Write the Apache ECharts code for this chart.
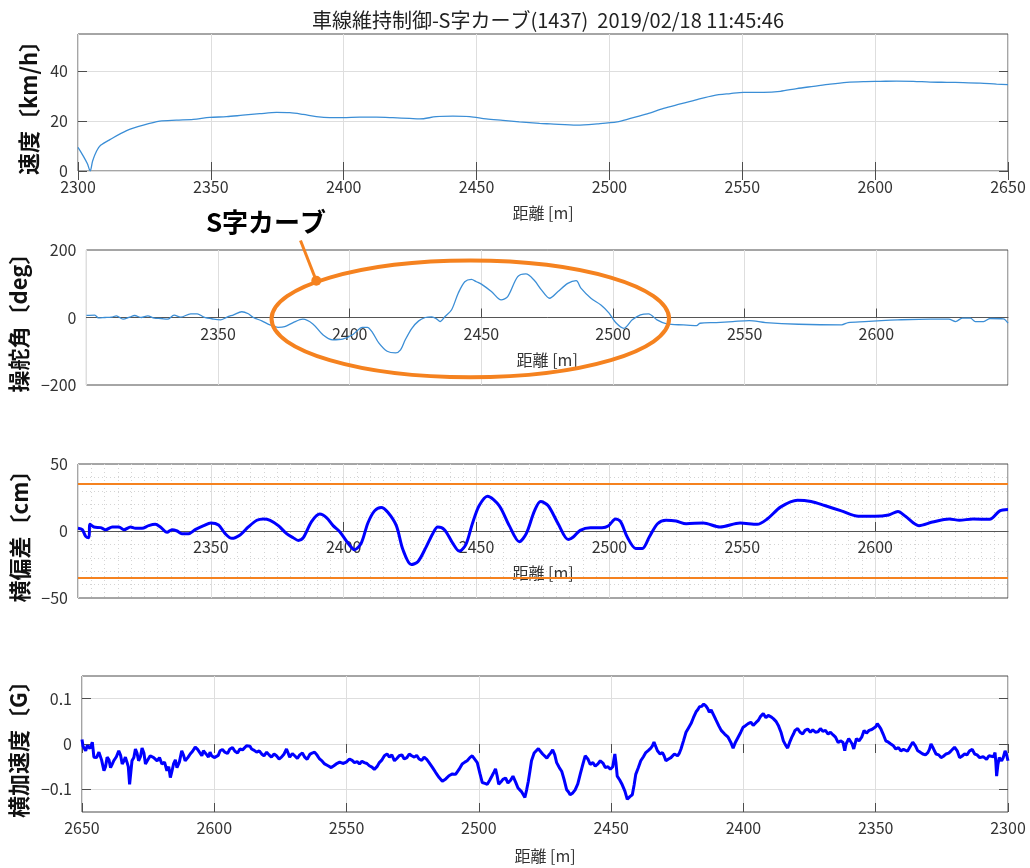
<!DOCTYPE html>
<html>
<head>
<meta charset="utf-8">
<script src="https://cdn.jsdelivr.net/npm/echarts@6/dist/echarts.min.js"></script>
<style>
  html, body { margin: 0; padding: 0; background: #fff; }
  #chart { width: 1030px; height: 868px; }
</style>
</head>
<body>
<div id="chart"></div>
<script>
// ---- text ----
const titleText = '車線維持制御-S字カーブ(1437)  2019/02/18 11:45:46';
const distanceName = '距離 [m]';
const panelNames = ['速度〔km/h〕', '操舵角〔deg〕', '横偏差〔cm〕', '横加速度〔G〕'];
const curveLabel = 'S字カーブ';

// ---- axes ----
const distanceRange = [2300, 2650];
const distanceStep = 50;
const speedTicks = [0, 20, 40];
const steerTicks = [-200, 0, 200];
const deviationTicks = [-50, 0, 50];
const accelTicks = [-0.1, 0, 0.1];

// ---- series: [distance m, value] ----
const speedKmh = [
  [2300, 9.5], [2302, 6], [2303.5, 3], [2304.6, 0], [2305.5, 4], [2307, 8], [2308.5, 10.3],
  [2312, 12.6], [2318.3, 16.2], [2324.6, 18.4], [2330.8, 20], [2337, 20.4], [2343.4, 20.7],
  [2349.6, 21.5], [2355.9, 21.8], [2362, 22.4], [2368.4, 23], [2374.7, 23.5], [2379.7, 23.4],
  [2384.7, 22.7], [2389.7, 21.8], [2394.7, 21.4], [2399.7, 21.4], [2406, 21.6], [2412.3, 21.6],
  [2418.5, 21.4], [2424.8, 21.1], [2428.6, 20.9], [2434.8, 21.8], [2441.1, 22], [2447.4, 21.8],
  [2453.6, 20.9], [2459.9, 20.3], [2466.1, 19.7], [2473.7, 19.1], [2477.8, 18.9], [2487.8, 18.4],
  [2495.4, 18.9], [2502.9, 19.7], [2507.9, 21.1], [2514.2, 22.9], [2520.4, 25.1], [2526.7, 26.9],
  [2533, 28.7], [2539.2, 30.3], [2545.5, 31.1], [2550.5, 31.6], [2558, 31.6], [2564.3, 32],
  [2570.5, 33.1], [2576.8, 34], [2583.1, 34.9], [2589.3, 35.6], [2595.6, 35.9], [2601.9, 36],
  [2608.1, 36.1], [2614.4, 36], [2620.7, 35.7], [2627, 35.6], [2633.2, 35.5], [2639.5, 35.3],
  [2645.7, 34.9], [2650, 34.7]
];

const steeringDeg = [
  [2300, 6], [2303.2, 7], [2304.5, -1], [2307, 0], [2309.5, 1], [2311.4, 5], [2313.9, -5],
  [2316.4, 1], [2318.3, 6], [2320.8, 0], [2323.3, 5], [2325.8, -2], [2328.3, -3], [2330.8, -5],
  [2333.3, 7], [2335.8, 1], [2339.6, 11], [2342.1, 11], [2344.6, 1], [2348.4, -5], [2350.9, -7],
  [2353.4, 1], [2355.9, 8], [2359, 17], [2361.5, 11], [2363.4, 0], [2366.6, -10], [2369.7, -22],
  [2372.8, -29], [2375.3, -27], [2378.5, -15], [2382.2, -5], [2386, -19], [2389.8, -51],
  [2393.5, -66], [2397.3, -64], [2401.1, -51], [2404.8, -29], [2406.7, -29], [2408.6, -44],
  [2411.1, -76], [2414.2, -100], [2417.4, -105], [2419.3, -96], [2421.1, -66], [2423.6, -32],
  [2426.2, -10], [2428.7, 0], [2431.2, 2], [2433.1, -5], [2434.3, -12], [2436.2, 3],
  [2438.7, 23], [2441.2, 72], [2443.7, 106], [2446.2, 113], [2448.1, 106], [2450, 99],
  [2453.8, 77], [2457.5, 52], [2460, 62], [2463.8, 121], [2466.9, 129], [2470, 111],
  [2472.8, 82], [2475.9, 57], [2479.1, 77], [2482.8, 101], [2486, 109], [2487.8, 87],
  [2491.6, 57], [2495.4, 37], [2498.5, 13], [2501, -15], [2504.1, -32], [2507.3, -7],
  [2510.4, 8], [2513.5, 11], [2516.7, -7], [2520.4, -19], [2526.7, -22], [2531.7, -24],
  [2533, -17], [2539.2, -15], [2545.5, -12], [2551.7, -9], [2558, -15], [2570.5, -20],
  [2586.8, -22], [2589.3, -15], [2595.6, -12], [2601.9, -9], [2608.1, -7], [2620.7, -5],
  [2627.5, -5], [2630.1, -12], [2632.6, -2], [2635.7, -2], [2637.6, -12], [2640.7, -12],
  [2643.2, -3], [2648.2, -4], [2650, -17]
];

const deviationCm = [
  [2300, 2], [2301.6, 1], [2302.9, -4], [2304.1, -5], [2304.5, 5], [2306, 3], [2308.5, 2.5],
  [2310.4, 1], [2312.9, 3], [2315.4, 3], [2317.3, 1], [2319.8, 3], [2321.6, 2], [2324.1, 2],
  [2326.6, 4], [2329.1, 5], [2331, 3], [2333.5, -1], [2335.4, 1], [2337.3, 0], [2339.1, -2],
  [2341.6, -2], [2344.1, 1], [2347.3, 4], [2350, 6], [2352.9, 4.5], [2355.4, -2], [2357.9, -5.5],
  [2361, -3], [2364.1, 3], [2367.3, 8], [2369.8, 9], [2372.3, 8], [2375.4, 4], [2378.5, -2],
  [2381, -5], [2382.9, -7], [2384.8, -5], [2387.9, 7], [2391, 12.6], [2393.5, 10], [2396, 4],
  [2398.5, -0.5], [2401.6, -9], [2404.1, -14], [2406.6, -9], [2409.1, 6], [2411.6, 15],
  [2414.1, 17.6], [2416.6, 14], [2419.8, 4], [2422.3, -14], [2425.4, -25], [2427.9, -23],
  [2431, -12], [2433.5, -2], [2435.4, 3], [2437.9, 1], [2441, -9], [2443.5, -15], [2446, -10],
  [2448.5, 6], [2451, 19], [2454.1, 26], [2458.5, 19], [2462.3, 4], [2466.1, -8], [2468.7, -2],
  [2471.8, 15], [2474.1, 22], [2476.9, 19], [2480.7, 5.4], [2484.5, -6.4], [2486.4, -4.5],
  [2489, 0.5], [2492.8, 2.5], [2497.2, 2.5], [2499.7, 4], [2502.3, 9], [2504.2, 7],
  [2506.7, -4.5], [2509.9, -13], [2512.4, -13], [2515, -4.5], [2518.1, 5.4], [2521.3, 8],
  [2525.1, 7.4], [2528.9, 5.4], [2535.3, 6], [2541.6, 3], [2549.2, 6], [2555.6, 5], [2559.4, 9],
  [2564.5, 18], [2570.8, 23], [2575.9, 22], [2581, 19], [2587.3, 15], [2593.7, 11], [2600, 11],
  [2605.1, 12], [2608.6, 14.6], [2611.4, 11], [2616.5, 4], [2621.6, 6.7], [2627.9, 9],
  [2631.7, 8], [2636.8, 9], [2643.1, 8.7], [2646.9, 15], [2650, 16]
];
const deviationLimits = [35, -35];

const lateralG = [
  [2300.0, -0.037], [2300.6, -0.022], [2301.1, -0.015], [2301.8, -0.030], [2302.4, -0.037],
  [2303.3, -0.030], [2303.8, -0.045], [2304.3, -0.071], [2304.6, -0.040], [2304.9, -0.019],
  [2305.5, -0.028], [2306.2, -0.030], [2307.2, -0.026], [2308.1, -0.034], [2309.4, -0.028],
  [2310.7, -0.030], [2311.7, -0.024], [2312.6, -0.022], [2313.5, -0.012], [2314.5, -0.015],
  [2315.5, -0.024], [2316.4, -0.022], [2317.4, -0.027], [2318.3, -0.030], [2319.2, -0.015],
  [2320.2, -0.007], [2321.5, -0.015], [2322.4, -0.020], [2323.4, -0.022], [2324.4, -0.027],
  [2325.3, -0.030], [2326.2, -0.024], [2327.2, -0.022], [2328.2, -0.010], [2329.1, 0.000],
  [2329.7, -0.012], [2330.3, -0.019], [2331.2, -0.024], [2332.2, -0.022], [2333.2, -0.018],
  [2334.1, -0.015], [2335.0, -0.004], [2336.0, 0.004], [2336.7, -0.003], [2337.3, -0.007],
  [2338.0, -0.016], [2338.6, -0.019], [2339.5, -0.012], [2340.5, -0.015], [2341.4, -0.008],
  [2342.4, -0.011], [2343.3, -0.004], [2344.3, 0.000], [2345.2, 0.004], [2346.2, 0.007],
  [2347.2, 0.022], [2348.1, 0.034], [2348.8, 0.040], [2349.4, 0.045], [2350.0, 0.038],
  [2350.6, 0.041], [2351.5, 0.032], [2352.5, 0.030], [2353.5, 0.024], [2354.4, 0.030],
  [2355.3, 0.015], [2356.3, 0.007], [2357.3, 0.012], [2358.3, -0.011], [2358.9, 0.000],
  [2359.5, 0.004], [2360.2, 0.012], [2360.8, 0.015], [2361.2, 0.000], [2361.7, -0.015],
  [2362.4, 0.004], [2363.3, 0.007], [2364.2, 0.003], [2365.2, 0.015], [2366.1, 0.020],
  [2367.1, 0.026], [2368.0, 0.022], [2369.0, 0.030], [2370.0, 0.028], [2370.9, 0.034],
  [2371.8, 0.027], [2372.8, 0.026], [2373.8, 0.031], [2374.7, 0.026], [2375.7, 0.033],
  [2376.7, 0.030], [2377.6, 0.022], [2378.6, 0.026], [2379.5, 0.034], [2380.5, 0.030],
  [2381.1, 0.022], [2381.7, 0.015], [2382.5, 0.004], [2383.3, -0.009], [2384.1, -0.002],
  [2384.9, 0.007], [2385.8, 0.026], [2386.8, 0.041], [2387.7, 0.050], [2388.7, 0.056],
  [2389.6, 0.060], [2390.6, 0.063], [2391.5, 0.058], [2392.5, 0.067], [2393.5, 0.061],
  [2394.4, 0.052], [2395.3, 0.047], [2396.3, 0.041], [2397.2, 0.048], [2398.2, 0.045],
  [2399.1, 0.041], [2400.1, 0.037], [2401.0, 0.026], [2402.0, 0.015], [2403.0, 0.004],
  [2403.9, -0.009], [2404.8, 0.004], [2405.8, 0.015], [2407.1, 0.022], [2408.4, 0.030],
  [2409.3, 0.040], [2410.3, 0.052], [2411.2, 0.063], [2412.2, 0.075], [2412.9, 0.070],
  [2413.5, 0.078], [2414.2, 0.084], [2415.0, 0.088], [2415.8, 0.083], [2416.6, 0.082],
  [2417.2, 0.076], [2417.9, 0.071], [2418.9, 0.058], [2419.8, 0.045], [2420.7, 0.036],
  [2421.7, 0.026], [2422.6, 0.008], [2423.6, -0.011], [2424.2, -0.020], [2424.9, -0.026],
  [2426.1, -0.022], [2427.4, -0.030], [2428.3, -0.033], [2429.3, -0.037], [2430.0, -0.026],
  [2430.6, -0.019], [2431.5, -0.022], [2432.5, -0.015], [2433.1, -0.006], [2433.8, 0.004],
  [2434.4, -0.004], [2435.0, -0.009], [2435.9, -0.014], [2436.9, -0.019], [2437.8, -0.028],
  [2438.8, -0.037], [2439.7, -0.052], [2440.7, -0.067], [2441.3, -0.090], [2442.0, -0.112],
  [2442.9, -0.116], [2443.9, -0.122], [2444.8, -0.104], [2445.8, -0.090], [2446.7, -0.080],
  [2447.7, -0.071], [2448.2, -0.040], [2448.6, -0.022], [2449.4, -0.050], [2450.3, -0.056],
  [2451.2, -0.050], [2452.2, -0.052], [2453.1, -0.042], [2454.1, -0.037], [2455.0, -0.044],
  [2456.0, -0.049], [2456.9, -0.041], [2457.9, -0.045], [2458.8, -0.033], [2459.8, -0.026],
  [2460.7, -0.045], [2461.7, -0.067], [2462.6, -0.088], [2463.6, -0.101], [2464.5, -0.108],
  [2465.5, -0.112], [2466.1, -0.106], [2466.8, -0.101], [2467.7, -0.080], [2468.7, -0.060],
  [2469.6, -0.052], [2470.6, -0.041], [2471.3, -0.024], [2472.1, -0.013], [2472.9, -0.020],
  [2473.7, -0.026], [2474.3, -0.031], [2475.0, -0.034], [2475.9, -0.022], [2476.9, -0.015],
  [2477.5, -0.010], [2478.2, -0.007], [2479.1, -0.020], [2480.1, -0.037], [2480.7, -0.060],
  [2481.3, -0.082], [2481.9, -0.100], [2482.6, -0.118], [2483.9, -0.105], [2485.2, -0.097],
  [2486.1, -0.084], [2487.1, -0.071], [2488.0, -0.080], [2489.0, -0.086], [2489.9, -0.075],
  [2490.9, -0.078], [2491.7, -0.084], [2492.5, -0.089], [2493.1, -0.070], [2493.7, -0.055],
  [2494.3, -0.062], [2495.0, -0.070], [2495.9, -0.080], [2496.8, -0.089], [2497.7, -0.087],
  [2498.7, -0.085], [2499.6, -0.065], [2500.6, -0.041], [2501.5, -0.034], [2502.5, -0.026],
  [2503.4, -0.030], [2504.4, -0.037], [2505.3, -0.040], [2506.3, -0.044], [2507.5, -0.056],
  [2508.8, -0.067], [2510.0, -0.066], [2511.3, -0.070], [2512.5, -0.077], [2513.8, -0.082],
  [2515.0, -0.074], [2516.3, -0.063], [2517.5, -0.052], [2518.8, -0.041], [2519.7, -0.034],
  [2520.7, -0.029], [2521.6, -0.036], [2522.6, -0.033], [2523.5, -0.025], [2524.4, -0.029],
  [2525.4, -0.026], [2526.3, -0.022], [2527.2, -0.030], [2528.2, -0.033], [2529.1, -0.024],
  [2530.1, -0.026], [2531.0, -0.032], [2531.9, -0.037], [2532.9, -0.024], [2533.8, -0.029],
  [2534.7, -0.022], [2535.7, -0.026], [2536.6, -0.035], [2537.6, -0.041], [2538.5, -0.050],
  [2539.5, -0.056], [2540.4, -0.051], [2541.4, -0.048], [2542.3, -0.043], [2543.3, -0.041],
  [2544.2, -0.038], [2545.1, -0.044], [2546.0, -0.039], [2547.0, -0.041], [2547.9, -0.036],
  [2548.9, -0.033], [2550.1, -0.040], [2551.4, -0.043], [2552.6, -0.040], [2553.9, -0.044],
  [2554.8, -0.048], [2555.8, -0.052], [2557.0, -0.048], [2558.3, -0.044], [2559.2, -0.038],
  [2560.2, -0.033], [2561.1, -0.025], [2562.1, -0.018], [2563.0, -0.020], [2563.9, -0.023],
  [2564.9, -0.034], [2565.8, -0.029], [2566.7, -0.020], [2567.7, -0.024], [2568.6, -0.032],
  [2569.6, -0.026], [2570.5, -0.021], [2571.5, -0.029], [2572.1, -0.020], [2572.7, -0.011],
  [2573.6, -0.022], [2574.6, -0.029], [2575.5, -0.033], [2576.5, -0.026], [2577.4, -0.022],
  [2578.4, -0.029], [2579.3, -0.024], [2580.2, -0.018], [2581.2, -0.026], [2582.1, -0.022],
  [2583.0, -0.015], [2584.0, -0.018], [2584.9, -0.014], [2585.9, -0.011], [2586.5, -0.005],
  [2587.2, -0.001], [2587.8, -0.004], [2588.4, -0.007], [2589.3, -0.013], [2590.3, -0.011],
  [2591.2, -0.020], [2592.2, -0.016], [2593.1, -0.008], [2594.1, -0.011], [2595.0, -0.021],
  [2596.0, -0.018], [2596.9, -0.012], [2597.8, -0.015], [2598.5, -0.025], [2599.1, -0.022],
  [2600.0, -0.030], [2601.0, -0.026], [2601.6, -0.018], [2602.2, -0.029], [2603.1, -0.022],
  [2604.1, -0.015], [2604.7, -0.026], [2605.3, -0.022], [2606.3, -0.012], [2607.2, -0.007],
  [2608.2, -0.016], [2609.1, -0.022], [2610.0, -0.030], [2611.0, -0.037], [2611.6, -0.025],
  [2612.3, -0.015], [2613.2, -0.040], [2614.1, -0.052], [2614.7, -0.035], [2615.4, -0.044],
  [2616.0, -0.060], [2616.6, -0.074], [2617.2, -0.050], [2617.9, -0.059], [2618.8, -0.040],
  [2619.8, -0.044], [2620.7, -0.030], [2621.6, -0.037], [2622.9, -0.030], [2624.2, -0.026],
  [2625.1, -0.035], [2626.0, -0.044], [2626.6, -0.020], [2627.3, -0.009], [2627.9, -0.028],
  [2628.6, -0.037], [2629.2, -0.020], [2629.8, -0.011], [2630.4, -0.030], [2631.1, -0.037],
  [2631.5, -0.060], [2632.0, -0.089], [2632.5, -0.050], [2633.0, -0.040], [2633.6, -0.029],
  [2634.2, -0.038], [2634.8, -0.044], [2635.4, -0.025], [2636.1, -0.015], [2637.0, -0.028],
  [2638.0, -0.037], [2638.6, -0.045], [2639.2, -0.052], [2639.8, -0.035], [2640.5, -0.029],
  [2641.1, -0.050], [2641.7, -0.059], [2642.6, -0.035], [2643.6, -0.018], [2644.5, -0.030],
  [2645.5, -0.029], [2645.8, -0.012], [2646.1, 0.004], [2647.0, -0.010], [2648.0, -0.003],
  [2648.6, -0.015], [2649.2, -0.018], [2649.6, -0.005], [2650, 0.010]
];

// S-curve callout, in steering-panel data units
const curveNote = {
  center: [2445.8, -4],
  halfSpan: [75.5, 173],
  pointer: [2387.3, 108.7],
  lineFrom: [2381.3, 228],
  labelAt: [2368.2, 284]
};

// ---- styling helpers ----
const FONT = '"Noto Sans CJK JP", "Noto Sans", sans-serif';
const TEXT = '#333333';
const FRAME = '#4d4d4d';
const GRIDC = '#dedede';
const ORANGE = '#F5821F';
const minus = s => String(s).replace('-', '\u2212');
const plain = v => String(v);

const tickLabel = {
  color: TEXT, fontSize: 16, fontFamily: FONT
};

// Distance axis; `centerLine` puts the axis on the zero line of a symmetric panel
function distanceAxis(gridIndex, extra) {
  return Object.assign({
    type: 'value', gridIndex,
    min: distanceRange[0], max: distanceRange[1], interval: distanceStep,
    name: distanceName, nameLocation: 'middle', nameGap: 34,
    nameTextStyle: { color: TEXT, fontSize: 16, fontFamily: FONT },
    axisLine: { show: false, onZero: false },
    axisTick: { show: true, inside: true, length: 9, lineStyle: { color: FRAME } },
    axisLabel: Object.assign({ margin: 8, formatter: plain }, tickLabel),
    splitLine: { show: true, lineStyle: { color: GRIDC, width: 1 } }
  }, extra || {});
}

function centeredDistanceAxis(gridIndex, panelHeight, extra) {
  return distanceAxis(gridIndex, Object.assign({
    offset: -panelHeight / 2,
    axisLine: { show: true, onZero: false, lineStyle: { color: '#555', width: 1 } },
    axisLabel: Object.assign({ margin: 8, formatter: plain, showMinLabel: false, showMaxLabel: false }, tickLabel)
  }, extra || {}));
}

function frameAxisX(gridIndex, inverse) {
  return {
    type: 'value', gridIndex, position: 'top', inverse: !!inverse,
    min: distanceRange[0], max: distanceRange[1], interval: distanceStep,
    axisLine: { show: false }, axisLabel: { show: false }, splitLine: { show: false },
    axisTick: { show: true, inside: true, length: 9, lineStyle: { color: FRAME } }
  };
}

function valueAxis(gridIndex, name, min, max, ticks, opts) {
  opts = opts || {};
  return Object.assign({
    type: 'value', gridIndex, min, max,
    name, nameLocation: 'middle', nameGap: opts.nameGap || 40,
    nameTextStyle: { color: '#111', fontSize: 22, fontWeight: 'bold', fontFamily: FONT },
    axisLine: { show: false },
    axisTick: { show: !!opts.ticks, inside: true, length: 9, lineStyle: { color: FRAME }, customValues: ticks },
    axisLabel: Object.assign({ margin: 10, customValues: ticks, formatter: opts.fmt || (v => minus(v)) }, tickLabel),
    splitLine: { show: !!opts.split, lineStyle: { color: GRIDC, width: 1 } }
  }, opts.extra || {});
}

function frameAxisY(gridIndex, min, max, ticks) {
  return {
    type: 'value', gridIndex, position: 'right', min, max,
    axisLine: { show: false }, axisLabel: { show: false }, splitLine: { show: false },
    axisTick: { show: true, inside: true, length: 9, lineStyle: { color: FRAME }, customValues: ticks }
  };
}

const panelHeights = [137, 135, 134, 136];
const gridBase = { left: 78, right: 22, show: true, borderColor: FRAME, borderWidth: 1, backgroundColor: '#fff' };
const dotted = { show: true, lineStyle: { color: '#d4d4d4', width: 1, type: [1, 3] } };

const option = {
  animation: false,
  backgroundColor: '#ffffff',
  title: {
    text: titleText, left: 543, top: 5, textAlign: 'center',
    textStyle: { color: '#222', fontSize: 20, fontWeight: 'normal', fontFamily: FONT }
  },
  grid: [
    Object.assign({ top: 34, height: panelHeights[0] }, gridBase),
    Object.assign({ top: 250, height: panelHeights[1] }, gridBase),
    Object.assign({ top: 464, height: panelHeights[2] }, gridBase),
    Object.assign({ top: 676, height: panelHeights[3] }, gridBase)
  ],
  xAxis: [
    distanceAxis(0),
    frameAxisX(0),
    centeredDistanceAxis(1, panelHeights[1]),
    centeredDistanceAxis(2, panelHeights[2], {
      minorTick: { show: false, splitNumber: 10 },
      minorSplitLine: dotted
    }),
    distanceAxis(3, { inverse: true, nameGap: 36 }),
    frameAxisX(3, true)
  ],
  yAxis: [
    valueAxis(0, panelNames[0], 0, 55, speedTicks, { ticks: true, split: true, nameGap: 33 }),
    frameAxisY(0, 0, 55, speedTicks),
    valueAxis(1, panelNames[1], -200, 200, steerTicks, { nameGap: 40 }),
    valueAxis(2, panelNames[2], -50, 50, deviationTicks, {
      nameGap: 40,
      extra: { interval: 50, minorTick: { show: false, splitNumber: 5 }, minorSplitLine: dotted }
    }),
    valueAxis(3, panelNames[3], -0.15, 0.15, accelTicks, {
      ticks: true, split: true, nameGap: 41,
      fmt: v => (Math.abs(v) < 1e-9 ? '0' : minus(v.toFixed(1)))
    }),
    frameAxisY(3, -0.15, 0.15, accelTicks)
  ],
  series: [
    {
      name: panelNames[0], type: 'line', xAxisIndex: 0, yAxisIndex: 0,
      data: speedKmh, showSymbol: false, smooth: 0.3,
      lineStyle: { color: '#3b8ed6', width: 1.3 }, silent: true
    },
    {
      name: panelNames[1], type: 'line', xAxisIndex: 2, yAxisIndex: 2,
      data: steeringDeg, showSymbol: false, smooth: 0.3,
      lineStyle: { color: '#3b8ed6', width: 1.3 }, silent: true
    },
    {
      name: panelNames[2], type: 'line', xAxisIndex: 3, yAxisIndex: 3,
      data: deviationCm, showSymbol: false, smooth: 0.3,
      lineStyle: { color: '#0000ff', width: 3 }, silent: true,
      markLine: {
        silent: true, symbol: 'none', animation: false,
        label: { show: false },
        lineStyle: { color: ORANGE, width: 2, type: 'solid' },
        data: deviationLimits.map(v => ({ yAxis: v }))
      }
    },
    {
      name: panelNames[3], type: 'line', xAxisIndex: 4, yAxisIndex: 4,
      data: lateralG, showSymbol: false,
      lineStyle: { color: '#0000ff', width: 3 }, silent: true
    }
  ]
};

const chart = echarts.init(document.getElementById('chart'), null, { renderer: 'canvas' });
chart.setOption(option);

// Callout around the S-curve section of the steering trace
function drawCallout() {
  const toPx = p => chart.convertToPixel({ gridIndex: 1 }, p);
  const c = toPx(curveNote.center);
  const edge = toPx([curveNote.center[0] + curveNote.halfSpan[0], curveNote.center[1] + curveNote.halfSpan[1]]);
  const tip = toPx(curveNote.pointer);
  const from = toPx(curveNote.lineFrom);
  const lab = toPx(curveNote.labelAt);
  chart.setOption({
    graphic: [
      {
        type: 'ellipse', z: 100, silent: true,
        shape: { cx: c[0], cy: c[1], rx: Math.abs(edge[0] - c[0]), ry: Math.abs(c[1] - edge[1]) },
        style: { fill: 'none', stroke: ORANGE, lineWidth: 4 }
      },
      {
        type: 'line', z: 100, silent: true,
        shape: { x1: from[0], y1: from[1], x2: tip[0], y2: tip[1] },
        style: { stroke: ORANGE, lineWidth: 3 }
      },
      {
        type: 'circle', z: 101, silent: true,
        shape: { cx: tip[0], cy: tip[1], r: 5 },
        style: { fill: ORANGE }
      },
      {
        type: 'text', z: 101, silent: true, x: lab[0], y: lab[1],
        style: {
          text: curveLabel, fill: '#000', fontSize: 26, fontWeight: 'bold', fontFamily: FONT,
          align: 'center', verticalAlign: 'middle'
        }
      }
    ]
  });
}
drawCallout();
</script>
</body>
</html>
